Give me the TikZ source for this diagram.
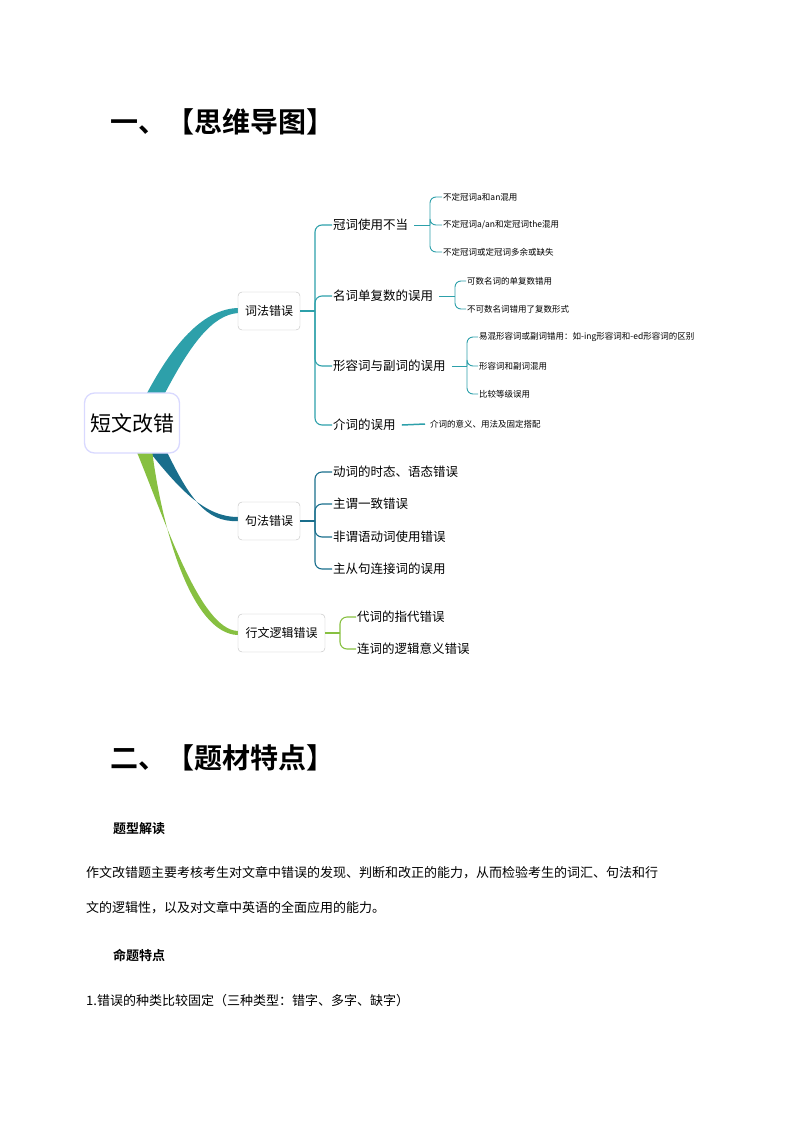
\documentclass[tikz,border=0pt]{standalone}
\usepackage{fontspec}
\setmainfont{Noto Sans CJK SC}
\newfontfamily\cjkbold{Noto Sans CJK SC Bold}
\begin{document}
\begin{tikzpicture}[x=1pt,y=-1pt,
  box/.style={draw=black!25,rounded corners=4,fill=white,inner sep=0pt,minimum height=38,font=\fontsize{12}{14}\selectfont},
  lvtwo/.style={anchor=west,inner sep=1pt,font=\fontsize{12.5}{14}\selectfont},
  leaf/.style={anchor=west,inner sep=1pt,font=\fontsize{8.5}{10}\selectfont},
  br/.style={line width=1.1,rounded corners=7},
  brs/.style={line width=0.9,rounded corners=6},
  title/.style={anchor=west,inner sep=0pt,font=\cjkbold\fontsize{28}{30}\selectfont},
  head/.style={anchor=west,inner sep=0pt,font=\cjkbold\fontsize{13}{15}\selectfont},
  para/.style={anchor=west,inner sep=0pt,font=\fontsize{13}{15}\selectfont}]
\definecolor{tealA}{RGB}{45,160,170}
\definecolor{tealB}{RGB}{25,110,140}
\definecolor{greenA}{RGB}{135,192,65}
\useasboundingbox (0,0) rectangle (800,1132);
\node[title] (t1) at (110,122) {一、【思维导图】};
% branches
\fill[tealA] (146,395) .. controls (175,340) and (205,309) .. (238,308) -- (238,313) .. controls (212,315) and (190,345) .. (164,395) -- cycle;
\fill[tealB] (148,450) .. controls (180,490) and (205,517) .. (238,517) -- (238,521) .. controls (205,523) and (188,495) .. (166,450) -- cycle;
\fill[greenA] (136,450) .. controls (165,520) and (200,630) .. (238,631) -- (238,635) .. controls (192,634) and (162,530) .. (152,450) -- cycle;
\node[draw=blue!15,line width=1.3,rounded corners=10,fill=white,minimum width=95,minimum height=60,font=\fontsize{21}{24}\selectfont] (root) at (132,423) {短文改错};
\node[box,minimum width=62] (a) at (269,311) {词法错误};
\node[box,minimum width=62] (b) at (269,521) {句法错误};
\node[box,minimum width=87] (c) at (281.5,633) {行文逻辑错误};
% level 2
\node[lvtwo] (a1) at (332,225) {冠词使用不当};
\node[lvtwo] (a2) at (332,296) {名词单复数的误用};
\node[lvtwo] (a3) at (332,366) {形容词与副词的误用};
\node[lvtwo] (a4) at (332,425) {介词的误用};
\node[lvtwo] (b1) at (332,472) {动词的时态、语态错误};
\node[lvtwo] (b2) at (332,504) {主谓一致错误};
\node[lvtwo] (b3) at (332,537) {非谓语动词使用错误};
\node[lvtwo] (b4) at (332,569) {主从句连接词的误用};
\node[lvtwo] (c1) at (356,617) {代词的指代错误};
\node[lvtwo] (c2) at (356,649) {连词的逻辑意义错误};
% leaves
\node[leaf] (l1) at (442,197) {不定冠词a和an混用};
\node[leaf] (l2) at (442,225) {不定冠词a/an和定冠词the混用};
\node[leaf] (l3) at (442,252) {不定冠词或定冠词多余或缺失};
\node[leaf] (l4) at (466,281) {可数名词的单复数错用};
\node[leaf] (l5) at (466,309) {不可数名词错用了复数形式};
\node[leaf] (l6) at (478,337) {易混形容词或副词错用：如-ing形容词和-ed形容词的区别};
\node[leaf] (l7) at (478,366) {形容词和副词混用};
\node[leaf] (l8) at (478,394) {比较等级误用};
\node[leaf] (l9) at (429,424) {介词的意义、用法及固定搭配};
% brackets level 2
\draw[br,tealA] (a.east) -- (315,311);
\foreach \n in {a1,a2,a3,a4} \draw[br,tealA] (315,311) |- (\n.west);
\draw[br,tealB] (b.east) -- (315,521);
\foreach \n in {b1,b2,b3,b4} \draw[br,tealB] (315,521) |- (\n.west);
\draw[br,greenA] (c.east) -- (340,633);
\foreach \n in {c1,c2} \draw[br,greenA] (340,633) |- (\n.west);
% leaf brackets
\draw[brs,tealA] ([xshift=5]a1.east) -- (430,225);
\foreach \n in {l1,l2,l3} \draw[brs,tealA] (430,225) |- (\n.west);
\draw[brs,tealA] ([xshift=5]a2.east) -- (455,296);
\foreach \n in {l4,l5} \draw[brs,tealA] (455,296) |- (\n.west);
\draw[brs,tealA] ([xshift=5]a3.east) -- (467,366);
\foreach \n in {l6,l7,l8} \draw[brs,tealA] (467,366) |- (\n.west);
\draw[brs,tealA,line width=1.5] ([xshift=5]a4.east) -- ([xshift=-4]l9.west);
% section 2
\node[title] (t2) at (110,758) {二、【题材特点】};
\node[head] (h1) at (113,829) {题型解读};
\node[para] (p1) at (86,873) {作文改错题主要考核考生对文章中错误的发现、判断和改正的能力，从而检验考生的词汇、句法和行};
\node[para] (p2) at (86,908) {文的逻辑性，以及对文章中英语的全面应用的能力。};
\node[head] (h2) at (113,955) {命题特点};
\node[para] (p3) at (86,1001) {1.错误的种类比较固定（三种类型：错字、多字、缺字）};
\end{tikzpicture}
\end{document}
